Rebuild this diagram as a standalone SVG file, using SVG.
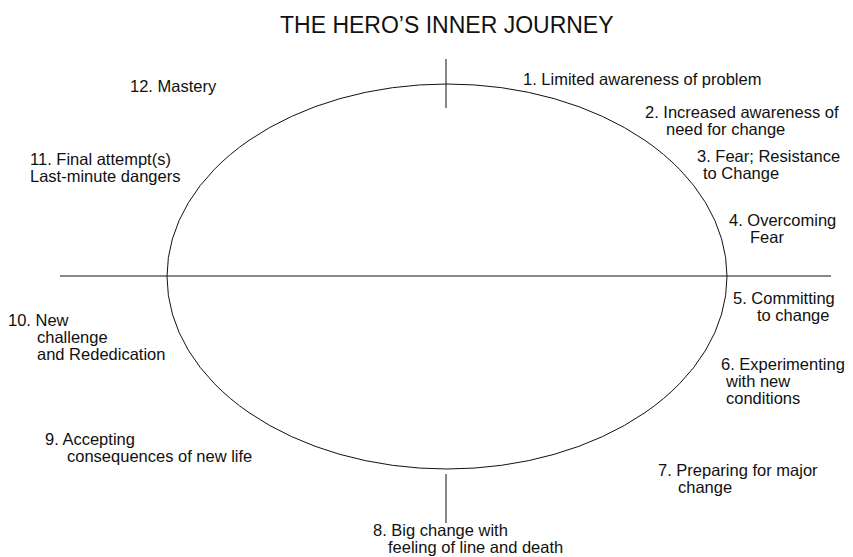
<svg xmlns="http://www.w3.org/2000/svg" width="853" height="557" viewBox="0 0 853 557">
<style>
.lbl{font-family:"Liberation Sans",Arial,sans-serif;font-size:16.5px;fill:#111}
.title{font-family:"Liberation Sans",Arial,sans-serif;font-size:23px;fill:#111}
.ln{stroke:#111;stroke-width:1;fill:none}
</style>
<rect width="853" height="557" fill="#fff"/>
<text class="title" x="280" y="33">THE HERO’S INNER JOURNEY</text>
<g id="connectors">
<ellipse class="ln" cx="447" cy="276.5" rx="280" ry="192.5"/>
<line class="ln" x1="60" y1="276" x2="831" y2="276"/>
<line class="ln" x1="446" y1="59" x2="446" y2="108"/>
<line class="ln" x1="446" y1="474" x2="446" y2="523"/>
</g>
<g id="n1"><text class="lbl" x="523" y="85">1. Limited awareness of problem</text></g>
<g id="n2"><text class="lbl" x="645" y="118">2. Increased awareness of</text><text class="lbl" x="666" y="135">need for change</text></g>
<g id="n3"><text class="lbl" x="697" y="162">3. Fear; Resistance</text><text class="lbl" x="703" y="179">to Change</text></g>
<g id="n4"><text class="lbl" x="729" y="226">4. Overcoming</text><text class="lbl" x="750" y="243">Fear</text></g>
<g id="n5"><text class="lbl" x="733" y="304">5. Committing</text><text class="lbl" x="757" y="321">to change</text></g>
<g id="n6"><text class="lbl" x="721" y="370">6. Experimenting</text><text class="lbl" x="726" y="387">with new</text><text class="lbl" x="726" y="404">conditions</text></g>
<g id="n7"><text class="lbl" x="658" y="476">7. Preparing for major</text><text class="lbl" x="678" y="493">change</text></g>
<g id="n8"><text class="lbl" x="373" y="536">8. Big change with</text><text class="lbl" x="388" y="553">feeling of line and death</text></g>
<g id="n9"><text class="lbl" x="45" y="445">9. Accepting</text><text class="lbl" x="67" y="462">consequences of new life</text></g>
<g id="n10"><text class="lbl" x="8" y="326">10. New</text><text class="lbl" x="37" y="343">challenge</text><text class="lbl" x="37" y="360">and Rededication</text></g>
<g id="n11"><text class="lbl" x="30" y="165">11. Final attempt(s)</text><text class="lbl" x="30" y="182">Last-minute dangers</text></g>
<g id="n12"><text class="lbl" x="130" y="92">12. Mastery</text></g>
</svg>
